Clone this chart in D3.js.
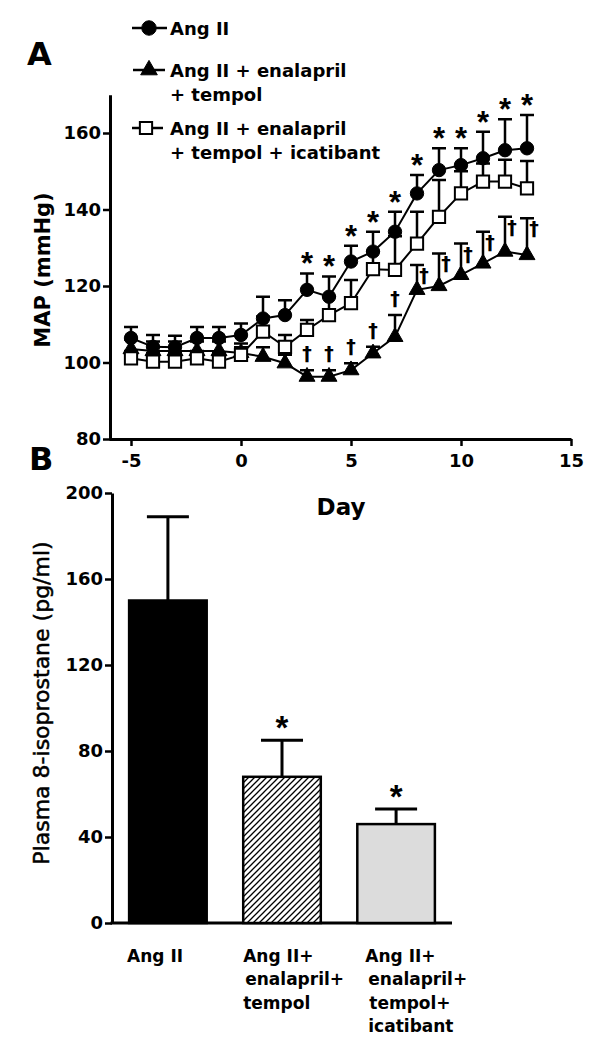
<!DOCTYPE html>
<html><head><meta charset="utf-8">
<script src="https://cdn.jsdelivr.net/npm/d3@7"></script>
<style>body{margin:0;background:#fff} svg{display:block}</style>
</head><body>
<svg id="c" width="604" height="1050"></svg>
<script>
// ---------- Panel A data ----------
const days = [-5,-4,-3,-2,-1,0,1,2,3,4,5,6,7,8,9,10,11,12,13];
const angII      = [106.4,104.1,104.0,106.4,106.4,107.2,111.5,112.4,119.0,117.2,126.4,129.0,134.2,144.2,150.3,151.6,153.4,155.5,156.0];
const angIIErr   = [109.3,107.2,107.0,109.3,109.3,110.2,117.2,116.3,123.3,122.5,130.5,134.2,139.4,149.0,156.0,156.0,160.3,163.6,164.7];
const enaTem     = [103.5,103.0,103.0,103.0,103.0,102.5,101.5,99.8,96.3,96.3,98.0,102.4,106.7,119.0,120.0,122.9,125.9,129.0,128.1];
const enaTemErr  = [106.0,105.5,105.5,105.5,105.5,105.0,104.0,102.0,98.0,98.0,99.8,104.1,112.4,125.5,128.5,131.1,134.2,138.1,137.7];
const enaTemIca  = [101.1,100.2,100.2,101.1,100.2,102.0,108.1,104.1,108.5,112.4,115.5,124.4,124.2,131.1,138.1,144.2,147.3,147.3,145.5];
const enaTemIcaErr=[103.0,102.5,102.5,103.0,102.5,104.0,112.0,107.2,111.1,117.2,121.6,129.0,133.0,139.4,147.7,150.0,152.0,153.0,152.7];
const starDays   = [3,4,5,6,7,8,9,10,11,12,13];
const daggerDays = [3,4,5,6,7,8,9,10,11,12,13];
const xTicksA = [-5,0,5,10,15];
const yTicksA = [80,100,120,140,160];
const legendLabels = [["Ang II"],["Ang II + enalapril","+ tempol"],["Ang II + enalapril","+ tempol + icatibant"]];

// ---------- Panel B data ----------
const groups = ["Ang II","Ang II+ enalapril+ tempol","Ang II+ enalapril+ tempol+ icatibant"];
const groupLines = [["Ang II"],["Ang II+","enalapril+","tempol"],["Ang II+","enalapril+","tempol+","icatibant"]];
const isoValues = [150, 68, 46];
const isoErr    = [189, 85, 53];
const isoSig    = [false, true, true];
const yTicksB = [0,40,80,120,160,200];

const FONT = "'DejaVu Sans', Verdana, sans-serif";
const svg = d3.select("#c");

// hatch pattern
const defs = svg.append("defs");
defs.append("pattern").attr("id","hatch").attr("patternUnits","userSpaceOnUse")
  .attr("width",6).attr("height",6)
  .call(p=>{p.append("rect").attr("width",6).attr("height",6).attr("fill","#fff");
    p.append("path").attr("d","M0,6L6,0M-1.5,1.5L1.5,-1.5M4.5,7.5L7.5,4.5")
     .attr("stroke","#000").attr("stroke-width",1.3);});

// ---------- Panel A ----------
const xA = d3.scaleLinear().domain([-6,15]).range([109,571]);
const yA = d3.scaleLinear().domain([80,170]).range([439,94.75]);

function styleAxis(g){
  g.select(".domain").attr("stroke","#000").attr("stroke-width",3);
  g.selectAll(".tick line").attr("stroke","#000").attr("stroke-width",2.5);
  g.selectAll(".tick text").attr("fill","#000").style("font-family",FONT)
   .style("font-weight","bold").style("font-size","18px");
}
svg.append("g").attr("transform","translate(0,439)")
  .call(d3.axisBottom(xA).tickValues(xTicksA).tickSize(7).tickSizeOuter(0).tickPadding(8).tickFormat(d=>String(d)))
  .call(styleAxis);
svg.append("g").attr("transform","translate(110,0)")
  .call(d3.axisLeft(yA).tickValues(yTicksA).tickSize(7).tickSizeOuter(0).tickPadding(2))
  .call(styleAxis);

const series = [
  {vals:enaTem, err:enaTemErr, sym:d3.symbolTriangle, size:110, fill:"#000", sw:1},
  {vals:angII, err:angIIErr, sym:d3.symbolCircle, size:140, fill:"#000", sw:1},
  {vals:enaTemIca, err:enaTemIcaErr, sym:d3.symbolSquare, size:150, fill:"#fff", sw:2}
];
series.forEach(s=>{
  const pts = days.map((d,i)=>({d, v:s.vals[i], e:s.err[i]}));
  const g = svg.append("g");
  g.selectAll(".eb").data(pts).join("path")
    .attr("d",p=>`M${xA(p.d)},${yA(p.v)}V${yA(p.e)}M${xA(p.d)-7},${yA(p.e)}H${xA(p.d)+7}`)
    .attr("stroke","#000").attr("stroke-width",2.5).attr("fill","none");
  g.append("path").datum(pts)
    .attr("d",d3.line().x(p=>xA(p.d)).y(p=>yA(p.v)))
    .attr("stroke","#000").attr("stroke-width",2).attr("fill","none");
  g.selectAll(".mk").data(pts).join("path")
    .attr("transform",p=>`translate(${xA(p.d)},${yA(p.v)})`)
    .attr("d",d3.symbol(s.sym,s.size)())
    .attr("fill",s.fill).attr("stroke","#000").attr("stroke-width",s.sw);
});

// stars above Ang II
svg.append("g").selectAll("text").data(starDays).join("text")
  .attr("x",d=>xA(d)).attr("y",d=>yA(angIIErr[days.indexOf(d)]) - 16 + 17)
  .attr("text-anchor","middle").style("font-family","'Liberation Sans', Arial, sans-serif")
  .style("font-weight","bold").style("font-size","31px").text("*");
// daggers for enalapril + tempol
svg.append("g").selectAll("text").data(daggerDays).join("text")
  .attr("x",d=>xA(d) + (d>=8 ? 7 : 0))
  .attr("y",d=>{const e=yA(enaTemErr[days.indexOf(d)]); return (d>=8 ? e+11 : e-16) + 6;})
  .attr("text-anchor","middle").attr("fill","#000").style("font-family",FONT)
  .style("font-weight","bold").style("font-size","19px").text("\u2020");

// legend
const legSyms = [
  {sym:d3.symbolCircle, size:165, fill:"#000", sw:1, x1:132, x2:167, mx:149, y:28},
  {sym:d3.symbolTriangle, size:120, fill:"#000", sw:1, x1:133, x2:165, mx:149, y:70},
  {sym:d3.symbolSquare, size:150, fill:"#fff", sw:2, x1:132, x2:163, mx:146, y:128}
];
legSyms.forEach((l,i)=>{
  const g = svg.append("g");
  g.append("line").attr("x1",l.x1).attr("x2",l.x2).attr("y1",l.y).attr("y2",l.y)
    .attr("stroke","#000").attr("stroke-width",2.5);
  g.append("path").attr("transform",`translate(${l.mx},${l.y})`).attr("d",d3.symbol(l.sym,l.size)())
    .attr("fill",l.fill).attr("stroke","#000").attr("stroke-width",l.sw);
  g.selectAll("text").data(legendLabels[i]).join("text")
    .attr("x",170).attr("y",(d,j)=>l.y+6.5+j*24.5)
    .style("font-family",FONT).style("font-weight","bold").style("font-size","18px").text(d=>d);
});

// titles A
svg.append("text").attr("x",27).attr("y",65).style("font-family",FONT).style("font-weight","bold").style("font-size","32px").text("A");
svg.append("text").attr("transform","translate(50,270) rotate(-90)").attr("text-anchor","middle")
  .style("font-family",FONT).style("font-weight","bold").style("font-size","21px").text("MAP (mmHg)");
svg.append("text").attr("x",341).attr("y",515).attr("text-anchor","middle")
  .style("font-family",FONT).style("font-weight","bold").style("font-size","23px").text("Day");

// ---------- Panel B ----------
const yB = d3.scaleLinear().domain([0,200]).range([923,493]);
const xB = d3.scaleBand().domain(groups).range([112,452]).paddingInner(0.32).paddingOuter(0.15);
svg.append("g").attr("transform","translate(112,0)")
  .call(d3.axisLeft(yB).tickValues(yTicksB).tickSize(7).tickSizeOuter(0).tickPadding(2))
  .call(styleAxis);
svg.append("line").attr("x1",110.5).attr("x2",452).attr("y1",923).attr("y2",923)
  .attr("stroke","#000").attr("stroke-width",3);

const fills = ["#000","url(#hatch)","#dcdcdc"];
const bg = svg.append("g");
groups.forEach((gname,i)=>{
  const cx = xB(gname)+xB.bandwidth()/2;
  bg.append("path").attr("d",`M${cx},${yB(isoValues[i])}V${yB(isoErr[i])}M${cx-21},${yB(isoErr[i])}H${cx+21}`)
    .attr("stroke","#000").attr("stroke-width",3).attr("fill","none");
  bg.append("rect").attr("x",xB(gname)).attr("y",yB(isoValues[i]))
    .attr("width",xB.bandwidth()).attr("height",yB(0)-yB(isoValues[i]))
    .attr("fill",fills[i]).attr("stroke","#000").attr("stroke-width",2.5);
  if(isoSig[i]) bg.append("text").attr("x",cx).attr("y",yB(isoErr[i])-19+18)
    .attr("text-anchor","middle").style("font-family","'Liberation Sans', Arial, sans-serif")
    .style("font-weight","bold").style("font-size","33px").text("*");
});
const lineDx = [[-2],[0,2,0],[8,11,12,11]];
groups.forEach((gname,i)=>{
  svg.append("g").selectAll("text").data(groupLines[i]).join("text")
    .attr("x",(d,j)=>xB(gname)+lineDx[i][j]).attr("y",(d,j)=>962+j*23.3)
    .style("font-family",FONT).style("font-weight","bold").style("font-size","17px").text(d=>d);
});
svg.append("text").attr("x",29).attr("y",470).style("font-family",FONT).style("font-weight","bold").style("font-size","32px").text("B");
svg.append("text").attr("transform","translate(49,703) rotate(-90)").attr("text-anchor","middle")
  .attr("stroke","#000").attr("stroke-width",0.5)
  .style("font-family",FONT).style("font-size","22px").text("Plasma 8-isoprostane (pg/ml)");
</script>
</body></html>
